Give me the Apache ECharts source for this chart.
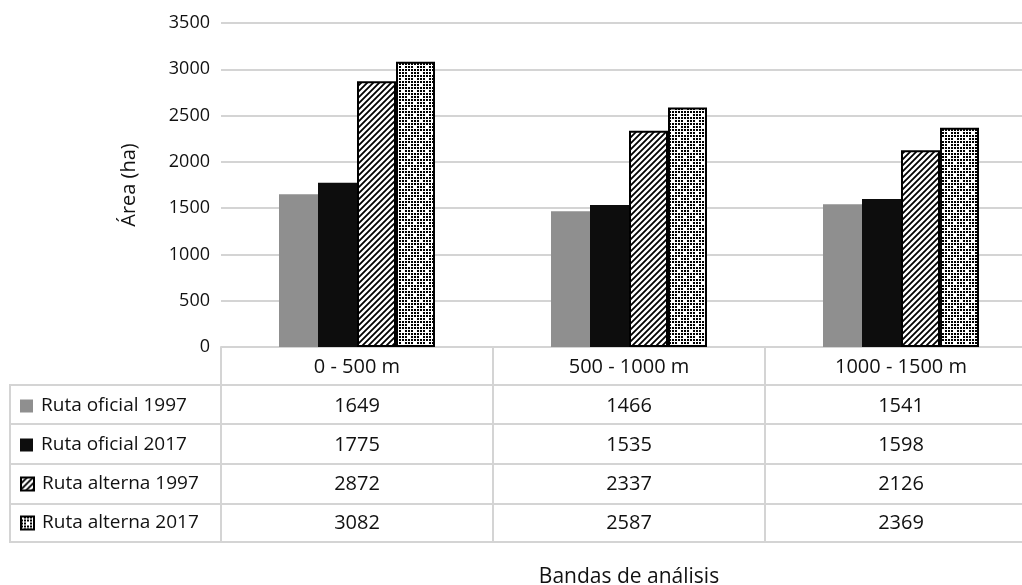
<!DOCTYPE html>
<html><head><meta charset="utf-8">
<script src="https://cdn.jsdelivr.net/npm/echarts@6/dist/echarts.min.js"></script>
<style>html,body{margin:0;padding:0;background:#fff;overflow:hidden}#c{width:1022px;height:585px}</style>
</head><body><div id="c"></div>
<script>
const categories = ['0 - 500 m', '500 - 1000 m', '1000 - 1500 m'];
const seriesNames = ['Ruta oficial 1997', 'Ruta oficial 2017', 'Ruta alterna 1997', 'Ruta alterna 2017'];
const oficial1997 = [1649, 1466, 1541];
const oficial2017 = [1775, 1535, 1598];
const alterna1997 = [2872, 2337, 2126];
const alterna2017 = [3082, 2587, 2369];
const yMin = 0, yMax = 3500, yStep = 500;
const xTitle = 'Bandas de análisis';
const yTitle = 'Área (ha)';

const FONT = 'Open Sans';
const values = [oficial1997, oficial2017, alterna1997, alterna2017];

function hatchPattern() {
  const c = document.createElement('canvas'); c.width = 6; c.height = 6;
  const g = c.getContext('2d');
  g.fillStyle = '#fff'; g.fillRect(0, 0, 6, 6);
  g.strokeStyle = '#000'; g.lineWidth = 1.8;
  g.beginPath();
  g.moveTo(-1, 7); g.lineTo(7, -1);
  g.moveTo(-1, 1); g.lineTo(1, -1);
  g.moveTo(5, 7); g.lineTo(7, 5);
  g.stroke();
  return c;
}
function checkerPattern() {
  const n = 12;
  const c = document.createElement('canvas'); c.width = n; c.height = n;
  const g = c.getContext('2d');
  g.fillStyle = '#fff'; g.fillRect(0, 0, n, n);
  g.fillStyle = '#000';
  for (let i = 0; i < 4; i++) for (let j = 0; j < 4; j++) {
    if ((i === 0 && j === 0) || (i === 2 && j === 2)) continue;
    g.fillRect(i * 3, j * 3, 2, 2);
  }
  return c;
}

const styles = [
  { color: '#8f8f8f' },
  { color: '#0d0d0d' },
  { color: { image: hatchPattern(), repeat: 'repeat' }, borderColor: '#000', borderWidth: 2 },
  { color: { image: checkerPattern(), repeat: 'repeat' }, borderColor: '#000', borderWidth: 2 }
];

const gridLeft = 221, gridTop = 23, gridBottom = 238, gridRight = -15;
const axisY = 585 - gridBottom;
const headerCenter = 367;
const rowCenters = [406, 445, 484, 523];
const lineColor = '#d4d4d4';

const xAxes = [{
  type: 'category', data: categories, gridIndex: 0, position: 'bottom',
  axisLine: { show: true, lineStyle: { color: lineColor, width: 2 } },
  axisTick: { show: true, interval: 0, length: 195, lineStyle: { color: lineColor, width: 2 } },
  axisLabel: { show: false },
  offset: 0,
  name: xTitle, nameLocation: 'middle', nameGap: 230,
  nameTextStyle: { fontFamily: FONT, fontSize: 21, color: '#111', verticalAlign: 'middle' }
}];
xAxes.push({
  type: 'category', data: categories, gridIndex: 0, position: 'bottom', offset: headerCenter - axisY,
  axisLine: { show: false }, axisTick: { show: false },
  axisLabel: { interval: 0, fontFamily: FONT, fontSize: 20, color: '#111', margin: 0, verticalAlign: 'middle' }
});
values.forEach((arr, k) => {
  xAxes.push({
    type: 'category', data: categories, gridIndex: 0, position: 'bottom',
    offset: rowCenters[k] - axisY,
    axisLine: { show: false }, axisTick: { show: false },
    axisLabel: { interval: 0, fontFamily: FONT, fontSize: 20, color: '#111', margin: 0, verticalAlign: 'middle',
      formatter: (v, i) => String(arr[i]) }
  });
});

const legends = seriesNames.map((name, k) => ({
  data: [name], left: 20, top: rowCenters[k] - 12, orient: 'vertical', padding: 0,
  icon: 'rect', itemWidth: 13, itemHeight: 13, itemGap: 0, selectedMode: false,
  textStyle: { fontFamily: FONT, fontSize: 19, color: '#111', padding: [0, 0, 0, 3], lineHeight: 24 }
}));

const tableLines = [];
[385, 424, 464, 504, 542].forEach(y => {
  tableLines.push({ type: 'line', shape: { x1: 10, y1: y, x2: 1022, y2: y }, style: { stroke: lineColor, lineWidth: 2 }, z: 5 });
});
tableLines.push({ type: 'line', shape: { x1: 10, y1: 384, x2: 10, y2: 543 }, style: { stroke: lineColor, lineWidth: 2 }, z: 5 });

const option = {
  backgroundColor: '#fff',
  animation: false,
  grid: { left: gridLeft, right: gridRight, top: gridTop, bottom: gridBottom, containLabel: false, outerBoundsMode: 'none' },
  legend: legends,
  xAxis: xAxes,
  yAxis: {
    type: 'value', min: yMin, max: yMax, interval: yStep,
    axisLine: { show: false }, axisTick: { show: false },
    axisLabel: { fontFamily: FONT, fontSize: 18, color: '#111', margin: 11, formatter: v => String(v) },
    splitLine: { lineStyle: { color: lineColor, width: 2 } },
    name: yTitle, nameLocation: 'middle', nameGap: 82,
    nameTextStyle: { fontFamily: FONT, fontSize: 20, color: '#111' }
  },
  graphic: tableLines,
  series: seriesNames.map((name, k) => ({
    name, type: 'bar', xAxisIndex: 0, data: values[k],
    barWidth: 39, barGap: '0%', itemStyle: styles[k], z: 3
  }))
};
const chart = echarts.init(document.getElementById('c'), null, { renderer: 'canvas' });
chart.setOption(option);
</script></body></html>
